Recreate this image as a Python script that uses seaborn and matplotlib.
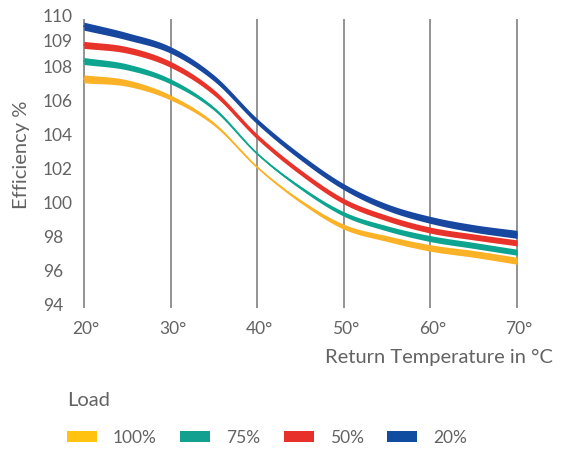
import numpy as np
import pandas as pd
import matplotlib
matplotlib.use("Agg")
import matplotlib.pyplot as plt
import matplotlib.transforms as mtransforms
from matplotlib.patches import Patch
import seaborn as sns

# return temperature (deg C) and efficiency (%) per load
temps = [20, 25, 30, 35, 40, 45, 50, 55, 60, 65, 70]
load_100 = [106.6, 106.35, 105.5, 103.95, 101.4, 99.4, 97.9, 97.2, 96.65, 96.3, 95.9]
load_75 = [107.65, 107.3, 106.45, 104.85, 102.2, 100.2, 98.65, 97.8, 97.2, 96.8, 96.4]
load_50 = [108.6, 108.3, 107.45, 105.8, 103.2, 101.1, 99.4, 98.4, 97.7, 97.3, 96.95]
load_20 = [109.7, 109.1, 108.3, 106.65, 104.1, 102.0, 100.25, 99.05, 98.3, 97.8, 97.45]

loads = ["100%", "75%", "50%", "20%"]
y_labels = [94, 96, 98, 100, 102, 104, 106, 108, 109, 110]
x_ticks = [20, 30, 40, 50, 60, 70]

colors = ["#fbb226", "#0ea590", "#e8332a", "#17479e"]
legend_colors = ["#ffc20e", "#12a190", "#e8302a", "#104c9f"]
# band thickness in pixels at 20..70 deg (the curves thin out in the middle)
band_px = {
    "100%": [8, 5, 1.4, 5, 6.5, 7],
    "75%": [7, 5, 1.7, 4.5, 6, 6],
    "50%": [7, 6, 5, 5.5, 6, 6],
    "20%": [8, 6.5, 5.5, 6, 7, 8],
}

TEXT = "#636363"
FONT = ["Lato", "DejaVu Sans"]


def smooth(x, y, n=500):
    # cubic hermite through the read points, just for drawing a smooth curve
    x = np.asarray(x, float)
    y = np.asarray(y, float)
    m = np.gradient(y, x)
    xd = np.linspace(x[0], x[-1], n)
    i = np.clip(np.searchsorted(x, xd) - 1, 0, len(x) - 2)
    h = x[i + 1] - x[i]
    t = (xd - x[i]) / h
    h00 = 2 * t**3 - 3 * t**2 + 1
    h10 = t**3 - 2 * t**2 + t
    h01 = -2 * t**3 + 3 * t**2
    h11 = t**3 - t**2
    yd = h00 * y[i] + h10 * h * m[i] + h01 * y[i + 1] + h11 * h * m[i + 1]
    return xd, yd


sns.set_style("white")
plt.rcParams["font.family"] = FONT

fig = plt.figure(figsize=(5.61, 4.54), dpi=100)
ax = fig.add_axes([83 / 561, 1 - 308 / 454, 435 / 561, 289 / 454])
ax.set_xlim(19.9, 70.1)
ax.set_ylim(93.12, 110.12)

# gridlines
ax.set_yticks(np.arange(94, 111, 2), minor=True)
ax.grid(which="minor", axis="y", color="#d2d2d2", lw=1.6, zorder=0)
ax.set_xticks(x_ticks)
ax.set_xticklabels([f"{t}°" for t in x_ticks])
ax.grid(which="major", axis="x", color="#8a8a8a", lw=1.3, zorder=0)
ax.tick_params(which="both", length=0)
for s in ax.spines.values():
    s.set_visible(False)

px_per_unit = 289 / (110.12 - 93.12)
frames = []
for name, vals in zip(loads, [load_100, load_75, load_50, load_20]):
    xd, yd = smooth(temps, vals)
    frames.append(pd.DataFrame({"temp": xd, "eff": yd, "load": name}))
df = pd.concat(frames, ignore_index=True)

sns.lineplot(data=df, x="temp", y="eff", hue="load", hue_order=loads,
             palette=colors, lw=1.2, legend=False, ax=ax, zorder=3)

for name, c in zip(loads, colors):
    d = df[df["load"] == name]
    half = np.interp(d["temp"], x_ticks, band_px[name]) / 2 / px_per_unit
    ax.fill_between(d["temp"], d["eff"] - half, d["eff"] + half, color=c, lw=0, zorder=3)

ax.set_xlabel("")
ax.set_ylabel("")

# y labels: left aligned, sitting a bit below their gridlines like the original
ax.set_yticks(y_labels)
ax.set_yticklabels([str(v) for v in y_labels])
ax.tick_params(axis="y", pad=0, labelsize=12.5, labelcolor=TEXT)
ax.tick_params(axis="x", pad=9, labelsize=12.5, labelcolor=TEXT)
dy_px = {110: 6, 109: -2}
for lab, v in zip(ax.get_yticklabels(), y_labels):
    lab.set_horizontalalignment("left")
    off = mtransforms.ScaledTranslation(-40 / 100, dy_px.get(v, -11) / 100, fig.dpi_scale_trans)
    lab.set_transform(lab.get_transform() + off)
for lab in ax.get_xticklabels():
    off = mtransforms.ScaledTranslation(2 / 100, 0, fig.dpi_scale_trans)
    lab.set_transform(lab.get_transform() + off)

fig.text(22 / 561, 1 - 155 / 454, "Efficiency %", rotation=90, ha="center", va="center",
         fontsize=14.5, color=TEXT)
fig.text(553 / 561, 1 - 357 / 454, "Return Temperature in °C", ha="right", va="center",
         fontsize=14.5, color=TEXT)

handles = [Patch(facecolor=c, edgecolor="none") for c in legend_colors]
leg = fig.legend(handles, loads, title="Load", loc="upper left",
                 bbox_to_anchor=(58 / 561, 1 - 383 / 454), ncol=4, frameon=False,
                 alignment="left", fontsize=12.5, title_fontsize=14.5,
                 handlelength=1.75, handleheight=0.6, handletextpad=0.9,
                 columnspacing=1.35, labelspacing=1.2, borderpad=0)
for t in leg.get_texts():
    t.set_color(TEXT)
leg.get_title().set_color(TEXT)

fig.savefig("out.png", dpi=100)
